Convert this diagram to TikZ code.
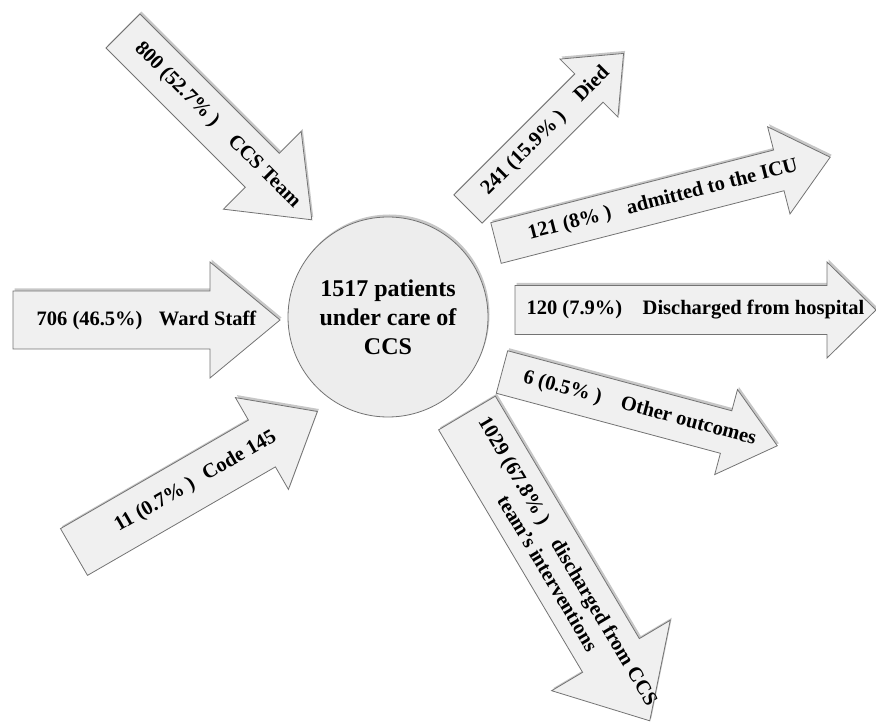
\documentclass[tikz,border=0pt]{standalone}
\usepackage{fontspec}
\setmainfont{Liberation Serif}
\usetikzlibrary{shadows}
\tikzset{
  arrowbox/.style={draw=black!55, line width=0.8pt, fill=black!6,
    drop shadow={shadow xshift=1.5pt, shadow yshift=2.5pt, opacity=0.22, fill=black}},
  arrowlabel/.style={font=\fontsize{20.5}{24}\selectfont\bfseries, inner sep=0pt, align=center},
  hub/.style={circle, draw=black!55, line width=0.8pt, fill=black!7, minimum size=200pt,
    align=center, font=\fontsize{24}{29}\selectfont\bfseries,
    drop shadow={shadow xshift=1.5pt, shadow yshift=2.5pt, opacity=0.22, fill=black}}
}
% tail centre, angle, length, half body, half head, head length, name, text
\def\blockarrow(#1)(#2:#3:#4:#5:#6)#7#8{%
  \begin{scope}[shift={(#1)}, rotate=#2]
    \draw[arrowbox] (0,-#4) -- (#3-#6,-#4) -- (#3-#6,-#5) -- (#3,0)
      -- (#3-#6,#5) -- (#3-#6,#4) -- (0,#4) -- cycle;
    \node[arrowlabel, transform shape] (#7) at (#3/2,0) {#8};
  \end{scope}}

\begin{document}
\begin{tikzpicture}[x=1pt, y=1pt]
		\useasboundingbox (0,0) rectangle (876,724);
		
		%%%%% IN %%%%%
		\blockarrow(123,693)(-45:267:24:55:70){team}{800 (52.7\% )\hspace{1em}CCS Team}
		\blockarrow(13,404)(0:267:29:58:70){ward}{706 (46.5\%)\hspace{0.8em}Ward Staff}
		\blockarrow(74,172)(30:281:27:53:64){code}{11 (0.7\% )\hspace{0.6em}Code 145}
		
		%%%%% OUT %%%%%
		\blockarrow(468,515)(45:220:20:41:49){died}{241 (15.9\% )\hspace{1em}Died}
		\blockarrow(496,481)(14.4:345:21:45:53){icu}{121 (8\% )\hspace{0.8em}admitted to the ICU}
		\blockarrow(515,414)(0:361:24.5:48:49){home}{120 (7.9\%)\hspace{1em}Discharged from hospital}
		\blockarrow(502,352)(-15:285:22:44:53){other}{6 (0.5\% )\hspace{1em}Other outcomes}
		\blockarrow(467,311)(-59.3:358:33:69:76){ccsout}{1029 (67.8\% )\hspace{1em}discharged from CCS\\team’s interventions}
		
		\node[hub] (patients) at (388,407) {1517 patients\\under care of\\CCS};
		
\end{tikzpicture}
\end{document}
